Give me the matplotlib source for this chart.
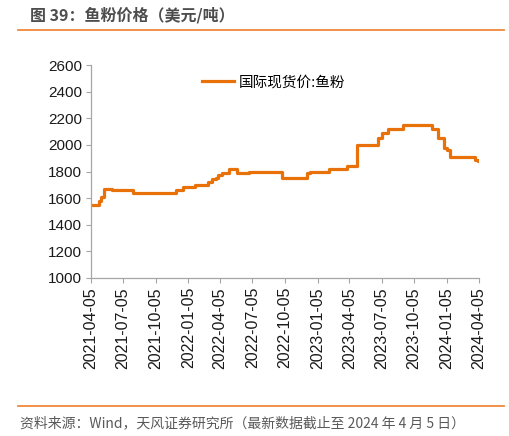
import matplotlib.pyplot as plt
import pandas as pd

# 数据：鱼粉价格（美元/吨），阶梯变化点
dates = ["2021-04-05", "2021-04-27", "2021-05-03", "2021-05-12", "2021-06-02",
         "2021-08-01", "2021-12-01", "2021-12-20", "2022-01-24", "2022-03-01",
         "2022-03-13", "2022-03-24", "2022-03-31", "2022-04-10", "2022-05-01",
         "2022-05-22", "2022-06-25", "2022-09-27", "2022-12-06", "2022-12-15",
         "2023-02-06", "2023-03-28", "2023-04-26", "2023-06-25", "2023-07-05",
         "2023-07-23", "2023-09-03", "2023-11-25", "2023-12-11", "2023-12-27",
         "2024-01-06", "2024-01-15", "2024-03-24", "2024-04-02", "2024-04-05"]
prices = [1550, 1580, 1610, 1670, 1660,
          1640, 1660, 1680, 1700, 1720,
          1740, 1750, 1770, 1790, 1820,
          1790, 1800, 1750, 1790, 1800,
          1820, 1840, 2000, 2050, 2090,
          2120, 2150, 2120, 2050, 1980,
          1960, 1910, 1890, 1880, 1880]
tick_dates = ["2021-04-05", "2021-07-05", "2021-10-05", "2022-01-05", "2022-04-05",
              "2022-07-05", "2022-10-05", "2023-01-05", "2023-04-05", "2023-07-05",
              "2023-10-05", "2024-01-05", "2024-04-05"]
y_ticks = [1000, 1200, 1400, 1600, 1800, 2000, 2200, 2400, 2600]

titolo = "图 39：鱼粉价格（美元/吨）"
serie = "国际现货价:鱼粉"
fonte = "资料来源：Wind，天风证券研究所（最新数据截止至 2024 年 4 月 5 日）"

plt.rcParams["font.family"] = ["Noto Sans CJK SC", "DejaVu Sans"]

x = pd.to_datetime(dates)
ticks = pd.to_datetime(tick_dates)

fig = plt.figure(figsize=(5.09, 4.36), dpi=100)
ax = fig.add_axes([0.1788, 0.3624, 0.7623, 0.4885])

ax.plot(x, prices, drawstyle="steps-post", color="#E8710A", lw=2.3, label=serie)

ax.set_ylim(1000, 2600)
ax.set_yticks(y_ticks)
ax.set_xlim(ticks[0], ticks[-1])
ax.set_xticks(ticks)
ax.set_xticklabels(tick_dates, rotation=90, fontsize=11.5,
                   family="Liberation Sans", color="#1a1a1a")
for lab in ax.get_yticklabels():
    lab.set_family("Liberation Sans")
    lab.set_fontsize(11)
    lab.set_color("#1a1a1a")

for s in ["top", "right"]:
    ax.spines[s].set_visible(False)
for s in ["left", "bottom"]:
    ax.spines[s].set_color("#a6a6a6")
    ax.spines[s].set_linewidth(0.9)
ax.tick_params(axis="both", direction="out", length=3.5, color="#a6a6a6", pad=3)

ax.legend(loc="upper center", bbox_to_anchor=(0.47, 1.0), frameon=False,
          fontsize=10.5, handlelength=2.2, handletextpad=0.3, borderaxespad=0.3)

# titolo e linee decorative
fig.text(30 / 509, 1 - 15 / 436, titolo, fontsize=11.5, fontweight="bold",
         color="#4d4d4d", va="center", ha="left")
fig.add_artist(plt.Line2D([18 / 509, 504 / 509], [1 - 30.5 / 436, 1 - 30.5 / 436],
                          color="#F0883A", lw=1.3))
fig.add_artist(plt.Line2D([18 / 509, 504 / 509], [1 - 405.5 / 436, 1 - 405.5 / 436],
                          color="#F0883A", lw=1.3))
fig.text(20 / 509, 1 - 423 / 436, fonte, fontsize=10, color="#595959",
         va="center", ha="left")

fig.savefig("out.png", dpi=100)
